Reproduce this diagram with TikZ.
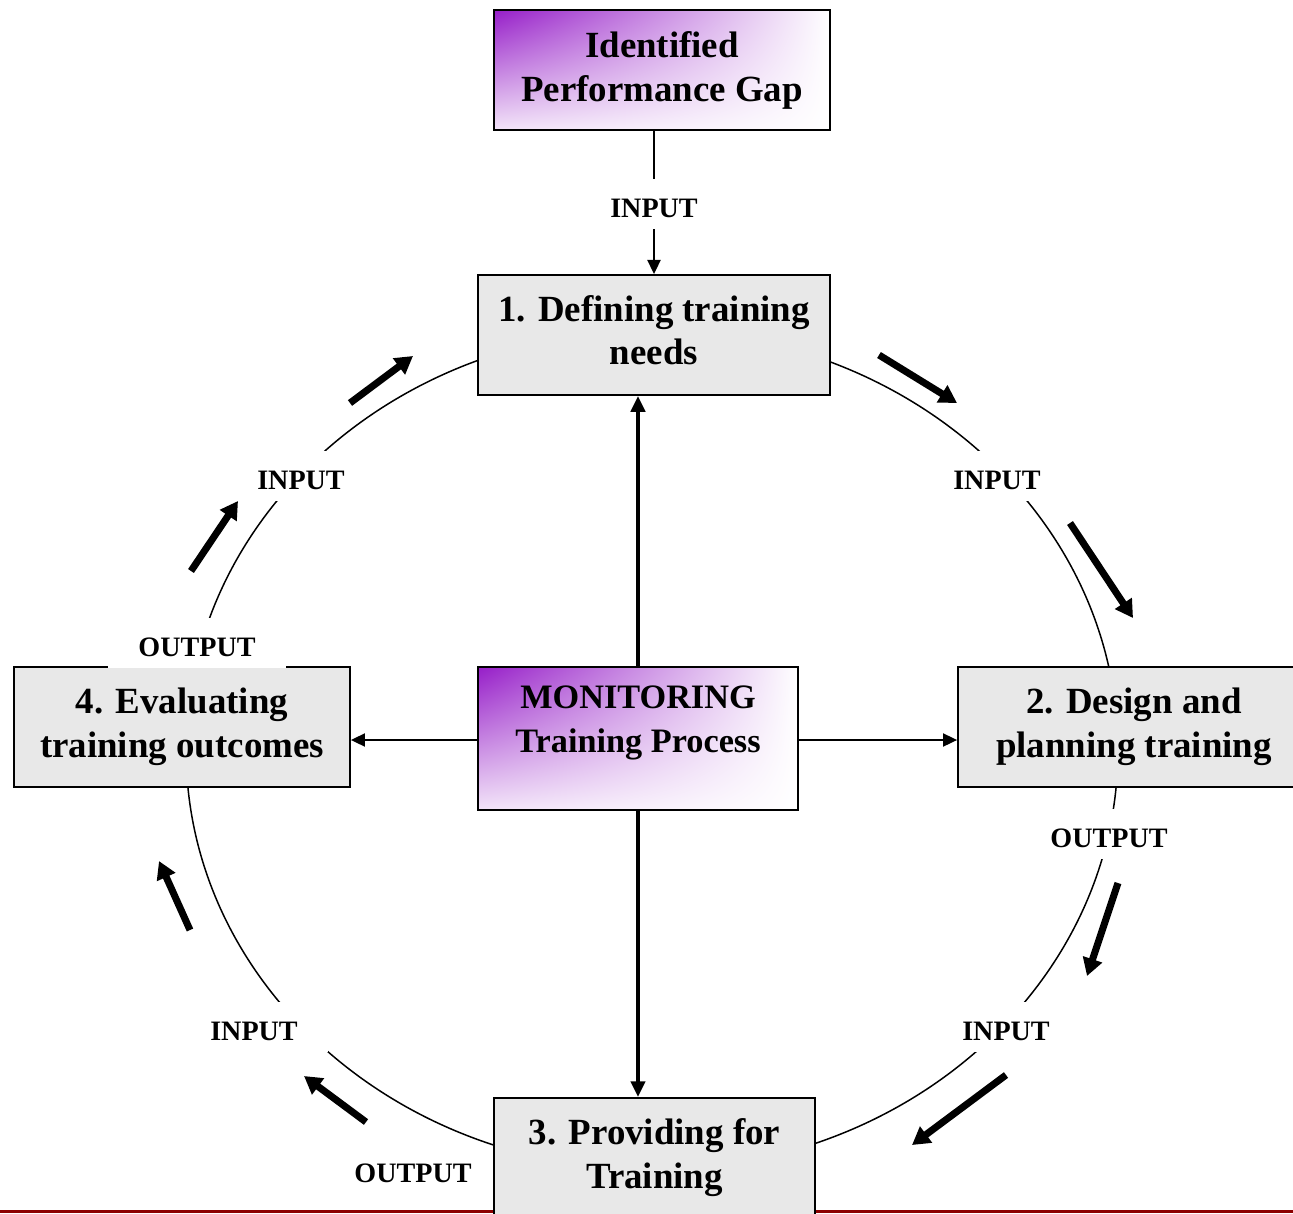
\documentclass[tikz,border=0pt]{standalone}
\usepackage{fontspec}
\setmainfont{Liberation Serif}
\usetikzlibrary{arrows.meta,shadings}
\definecolor{vio}{RGB}{150,30,200}
\colorlet{vioLL}{vio!12!white}
\definecolor{boxgray}{RGB}{232,232,232}
\definecolor{darkred}{RGB}{140,0,0}
\newcommand\boxfont{\fontsize{21}{25}\selectfont\bfseries}
\newcommand\monfont{\fontsize{19.5}{25}\selectfont\bfseries}
\newcommand\lblfont{\fontsize{16}{19}\selectfont\bfseries}
\begin{document}
\begin{tikzpicture}[x=0.02cm,y=-0.02cm,
  box/.style={draw=black, line width=1.1pt, fill=boxgray, align=center, inner sep=0pt, font=\boxfont},
  gradbox/.style={draw=black, line width=1.1pt, upper left=vio, upper right=white, lower left=vioLL, lower right=white, align=center, inner sep=0pt, font=\boxfont},
  lbl/.style={fill=white, inner xsep=0.6cm, inner ysep=0.23cm, text height=15pt, text depth=0pt, font=\lblfont},
  thinarr/.style={line width=0.85pt, -{Triangle[length=8pt,width=7.5pt]}},
  midarr/.style={line width=2.3pt, -{Triangle[length=9pt,width=8pt]}},
  fatarr/.style={line width=4pt, -{Triangle[length=10pt,width=11pt]}},
]
\useasboundingbox (0,0) rectangle (1293,1213);
\clip (0,0) rectangle (1293,1213);

% cycle ellipse
\draw[line width=0.85pt] (652,750) ellipse [x radius=9.32cm, y radius=8.4cm];

% bottom rule
\fill[darkred] (0,1210) rectangle (1293,1213);

% boxes
\node[gradbox, minimum width=6.72cm, minimum height=2.4cm] (gap) at (662,70) {Identified\\Performance Gap};
\node[box, minimum width=7.04cm, minimum height=2.4cm, text depth=5.7pt] (def) at (654,335) {1. Defining training\\needs};
\node[box, minimum width=7.04cm, minimum height=2.4cm] (des) at (1134,727) {2. Design and\\planning training};
\node[box, minimum width=6.42cm, minimum height=2.4cm] (prov) at (654.5,1158) {3. Providing for\\Training};
\node[box, minimum width=6.72cm, minimum height=2.4cm] (eval) at (182,727) {4. Evaluating\\training outcomes};
\node[gradbox, minimum width=6.4cm, minimum height=2.86cm] (mon) at (638,738.5) {};
\node[font=\monfont, align=center, inner sep=0pt] (montext) at (638,723) {MONITORING\\Training Process};

% connectors
\draw[thinarr] (gap.south -| def.north) -- (def.north);
\draw[midarr] (mon.north) -- (mon.north |- def.south);
\draw[midarr] (mon.south) -- (mon.south |- prov.north);
\draw[thinarr] ([yshift=-0.03cm]mon.west) -- ([yshift=-0.03cm]mon.west -| eval.east);
\draw[thinarr] ([yshift=-0.03cm]mon.east) -- ([yshift=-0.03cm]mon.east -| des.west);

% labels
\node[lbl] (in0) at (654,204) {INPUT};
\node[lbl] (in1) at (301,476) {INPUT};
\node[lbl] (in2) at (997,476) {INPUT};
\node[lbl] (out4) at (197,643) {OUTPUT};
\node[lbl] (out2) at (1109,834) {OUTPUT};
\node[lbl] (in3) at (1006,1027) {INPUT};
\node[lbl] (in4) at (254,1027) {INPUT};
\node[lbl, fill=none] (out3) at (413,1169) {OUTPUT};

% direction arrows along the cycle
\draw[fatarr] (350,403) -- (413,356);
\draw[fatarr] (191,571) -- (238,501);
\draw[fatarr] (879,355) -- (957,403);
\draw[fatarr] (1070,523) -- (1133,618);
\draw[fatarr] (1118,883) -- (1087,976);
\draw[fatarr] (1006,1075) -- (912,1145);
\draw[fatarr] (366,1122) -- (304,1076);
\draw[fatarr] (190,930) -- (159,861);
\end{tikzpicture}
\end{document}
